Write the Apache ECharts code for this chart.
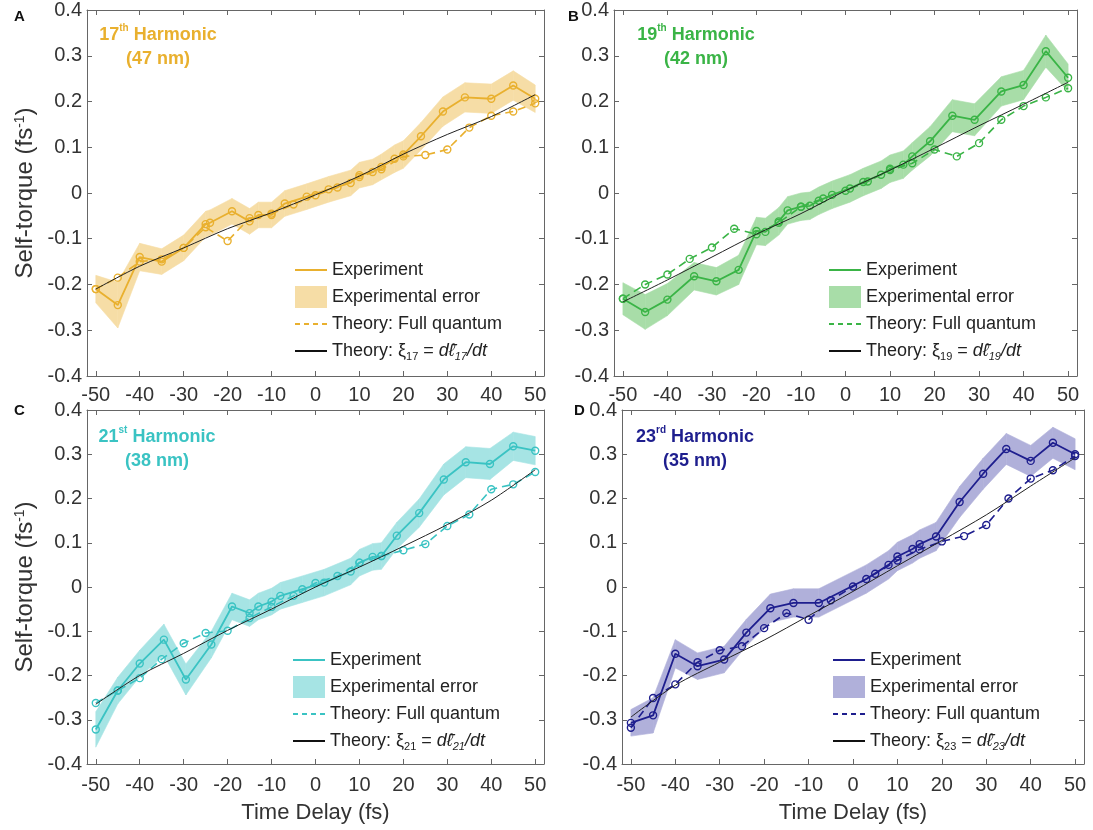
<!DOCTYPE html>
<html>
<head>
<meta charset="utf-8">
<script src="https://cdn.jsdelivr.net/npm/echarts@6/dist/echarts.min.js"></script>
<style>
  html, body { margin: 0; padding: 0; background: #fff; }
  #chart { width: 1093px; height: 830px; }
</style>
</head>
<body>
<div id="chart"></div>
<script>
// axis ticks
const delayTicks = [-50, -40, -30, -20, -10, 0, 10, 20, 30, 40, 50];
// time delays of the full quantum theory points and of the xi = dl/dt curve
const delayFull = [-50, -45, -40, -35, -30, -25, -20, -15, -10, -5, 0, 5, 10, 15, 20, 25, 30, 35, 40, 45, 50];
const delayXi = [-50, -40, -30, -20, -10, 0, 10, 20, 30, 40, 50];

// A: 17th harmonic
const delayExpA = [-50, -45, -40, -35, -30, -25, -24, -19, -15, -13, -10, -7, -2, 3, 8, 10, 13, 15, 18, 20, 24, 29, 34, 40, 45, 50];
const torqueExpA = [-0.21, -0.245, -0.14, -0.15, -0.12, -0.068, -0.065, -0.04, -0.062, -0.048, -0.048, -0.023, -0.008, 0.008, 0.022, 0.039, 0.046, 0.057, 0.075, 0.084, 0.124, 0.178, 0.209, 0.206, 0.235, 0.206];
const errA = [0.03, 0.05, 0.03, 0.028, 0.028, 0.028, 0.028, 0.028, 0.028, 0.028, 0.028, 0.028, 0.028, 0.028, 0.028, 0.028, 0.028, 0.028, 0.03, 0.03, 0.03, 0.032, 0.032, 0.032, 0.032, 0.03];
const torqueFullA = [-0.21, -0.185, -0.15, -0.145, -0.12, -0.075, -0.105, -0.055, -0.045, -0.025, -0.005, 0.012, 0.035, 0.052, 0.08, 0.083, 0.095, 0.143, 0.169, 0.178, 0.196];
const torqueXiA = [-0.21, -0.16, -0.12, -0.078, -0.043, -0.004, 0.037, 0.085, 0.128, 0.167, 0.215];

// B: 19th harmonic
const delayExpB = [-50, -45, -40, -34, -29, -24, -20, -18, -15, -13, -10, -8, -6, -3, 1, 4, 8, 10, 13, 15, 19, 24, 29, 35, 40, 45, 50];
const torqueExpB = [-0.231, -0.26, -0.233, -0.182, -0.193, -0.168, -0.083, -0.085, -0.062, -0.038, -0.03, -0.028, -0.017, -0.004, 0.01, 0.024, 0.04, 0.053, 0.062, 0.08, 0.113, 0.169, 0.16, 0.222, 0.236, 0.31, 0.252];
const errB = [0.035, 0.038, 0.035, 0.03, 0.03, 0.032, 0.03, 0.03, 0.03, 0.03, 0.03, 0.03, 0.03, 0.03, 0.03, 0.03, 0.03, 0.03, 0.03, 0.03, 0.032, 0.035, 0.035, 0.032, 0.032, 0.035, 0.03];
const torqueFullB = [-0.231, -0.2, -0.178, -0.144, -0.119, -0.078, -0.09, -0.065, -0.03, -0.012, 0.005, 0.025, 0.05, 0.065, 0.095, 0.08, 0.109, 0.16, 0.19, 0.209, 0.229];
const torqueXiB = [-0.238, -0.19, -0.14, -0.09, -0.045, 0.005, 0.05, 0.098, 0.147, 0.194, 0.242];

// C: 21st harmonic
const delayExpC = [-50, -45, -40, -34.5, -29.5, -23.7, -19, -15, -13, -10, -8, -3, 2, 8, 10, 13, 15, 18.5, 23.6, 29.2, 34.2, 39.7, 45, 50];
const torqueExpC = [-0.322, -0.234, -0.173, -0.119, -0.209, -0.13, -0.044, -0.059, -0.044, -0.033, -0.02, -0.005, 0.01, 0.035, 0.055, 0.068, 0.07, 0.116, 0.167, 0.243, 0.282, 0.278, 0.318, 0.308];
const errC = [0.04, 0.03, 0.03, 0.035, 0.035, 0.03, 0.03, 0.03, 0.03, 0.03, 0.03, 0.03, 0.03, 0.03, 0.03, 0.03, 0.03, 0.03, 0.032, 0.035, 0.035, 0.035, 0.032, 0.032];
const torqueFullC = [-0.262, -0.234, -0.206, -0.163, -0.127, -0.104, -0.099, -0.07, -0.045, -0.02, 0.009, 0.025, 0.055, 0.07, 0.083, 0.097, 0.138, 0.164, 0.221, 0.232, 0.26];
const torqueXiC = [-0.265, -0.2, -0.15, -0.098, -0.05, 0.0, 0.045, 0.092, 0.141, 0.196, 0.265];

// D: 23rd harmonic
const delayExpD = [-50, -45, -40, -35, -29, -24, -18.6, -13.4, -7.7, 3, 8, 10, 13.4, 15, 18.7, 24, 29.3, 34.5, 40, 45, 50];
const torqueExpD = [-0.307, -0.29, -0.151, -0.179, -0.164, -0.103, -0.048, -0.036, -0.036, 0.018, 0.05, 0.069, 0.086, 0.097, 0.114, 0.192, 0.256, 0.312, 0.285, 0.326, 0.3];
const errD = [0.03, 0.04, 0.032, 0.03, 0.03, 0.03, 0.032, 0.032, 0.032, 0.032, 0.032, 0.032, 0.032, 0.032, 0.032, 0.035, 0.035, 0.035, 0.035, 0.035, 0.035];
const torqueFullD = [-0.318, -0.251, -0.22, -0.17, -0.143, -0.134, -0.093, -0.059, -0.074, -0.03, 0.001, 0.03, 0.06, 0.085, 0.103, 0.115, 0.14, 0.2, 0.245, 0.264, 0.296];
const torqueXiD = [-0.294, -0.222, -0.17, -0.12, -0.065, -0.01, 0.048, 0.105, 0.163, 0.228, 0.292];

const FONT = 'Liberation Sans';
const TXT = '#333';

const panels = [
  { key: 'A', order: 17, sfx: 'th', nm: 47, color: '#E9B02E', band: '#F6DDA6',
    grid: { left: 87, top: 8, width: 457, height: 368 }, letter: [14, 9], title: [158, 23], legend: [295, 259],
    expT: delayExpA, expV: torqueExpA, err: errA, full: torqueFullA, xi: torqueXiA, yName: true, xName: false },
  { key: 'B', order: 19, sfx: 'th', nm: 42, color: '#3AB446', band: '#A8DDA8',
    grid: { left: 614, top: 8, width: 463, height: 368 }, letter: [568, 9], title: [696, 23], legend: [829, 259],
    expT: delayExpB, expV: torqueExpB, err: errB, full: torqueFullB, xi: torqueXiB, yName: false, xName: false },
  { key: 'C', order: 21, sfx: 'st', nm: 38, color: '#3AC3C3', band: '#A6E4E4',
    grid: { left: 87, top: 410, width: 457, height: 354 }, letter: [14, 403], title: [157, 425], legend: [293, 649],
    expT: delayExpC, expV: torqueExpC, err: errC, full: torqueFullC, xi: torqueXiC, yName: true, xName: true },
  { key: 'D', order: 23, sfx: 'rd', nm: 35, color: '#1E1E8E', band: '#B0B0DA',
    grid: { left: 622, top: 410, width: 462, height: 354 }, letter: [574, 403], title: [695, 425], legend: [833, 649],
    expT: delayExpD, expV: torqueExpD, err: errD, full: torqueFullD, xi: torqueXiD, yName: false, xName: true }
];

function pairs(xs, ys) {
  return xs.map((x, k) => [x, ys[k]]);
}

// error band: one quad between each pair of neighbouring points
function bandItem(params, api) {
  const k = params.dataIndexInside;
  if (k >= params.dataInsideLength - 1) return;
  const lo0 = api.coord([api.value(0, k), api.value(1, k)]);
  const hi0 = api.coord([api.value(0, k), api.value(2, k)]);
  const lo1 = api.coord([api.value(0, k + 1), api.value(1, k + 1)]);
  const hi1 = api.coord([api.value(0, k + 1), api.value(2, k + 1)]);
  const col = api.visual('color');
  return {
    type: 'polygon',
    shape: { points: [lo0, lo1, hi1, hi0] },
    style: { fill: col, stroke: col, lineWidth: 0.6 }
  };
}

// legend icons (moveTo points keep the bounding box at 32 x 22)
const lineIcon = 'path://M0,0M0,10h32v2h-32zM32,22';
const dashIcon = 'path://M0,0M0,10h5v2h-5zM9,10h5v2h-5zM18,10h5v2h-5zM27,10h5v2h-5zM32,22';
const rectIcon = 'path://M0,0h32v22h-32z';

const grids = [], xAxes = [], yAxes = [], series = [], legends = [], graphics = [];

panels.forEach((p, i) => {
  grids.push(Object.assign({ containLabel: false }, p.grid));

  const axisLine = { show: true, onZero: false, lineStyle: { color: '#666', width: 1 } };
  const tick = { show: true, inside: true, length: 5, lineStyle: { color: '#666' } };

  xAxes.push({
    type: 'value', gridIndex: i, position: 'bottom', min: -52, max: 52,
    axisLine: axisLine, splitLine: { show: false },
    axisTick: Object.assign({ customValues: delayTicks }, tick),
    axisLabel: { customValues: delayTicks, fontSize: 20, color: TXT, fontFamily: FONT, margin: p.xName ? 11 : 9 },
    name: p.xName ? 'Time Delay (fs)' : '', nameLocation: 'middle', nameGap: 38,
    nameTextStyle: { fontSize: 22, color: TXT, fontFamily: FONT }
  });
  xAxes.push({
    type: 'value', gridIndex: i, position: 'top', min: -52, max: 52,
    axisLine: axisLine, splitLine: { show: false },
    axisTick: Object.assign({ customValues: delayTicks }, tick),
    axisLabel: { show: false }
  });
  yAxes.push({
    type: 'value', gridIndex: i, position: 'left', min: -0.4, max: 0.4, interval: 0.1,
    axisLine: axisLine, splitLine: { show: false }, axisTick: tick,
    axisLabel: { fontSize: 20, color: TXT, fontFamily: FONT, margin: 5 },
    name: p.yName ? 'Self-torque (fs{sup|-1})' : '', nameLocation: 'middle', nameGap: 50,
    nameTextStyle: { fontSize: 24, color: TXT, fontFamily: FONT,
      rich: { sup: { fontSize: 14, color: TXT, fontFamily: FONT, verticalAlign: 'top', lineHeight: 12 } } }
  });
  yAxes.push({
    type: 'value', gridIndex: i, position: 'right', min: -0.4, max: 0.4, interval: 0.1,
    axisLine: axisLine, splitLine: { show: false }, axisTick: tick, axisLabel: { show: false }
  });

  const ax = { xAxisIndex: 2 * i, yAxisIndex: 2 * i };
  const hollow = { color: 'rgba(255,255,255,0)', borderColor: p.color, borderWidth: 1.4 };

  series.push(Object.assign({
    type: 'custom', name: p.key + ' err', renderItem: bandItem,
    data: p.expT.map((t, k) => [t, p.expV[k] - p.err[k], p.expV[k] + p.err[k]]),
    encode: { x: 0, y: [1, 2] }, itemStyle: { color: p.band }, silent: true, z: 1
  }, ax));
  series.push(Object.assign({
    type: 'line', name: p.key + ' full', data: pairs(delayFull, p.full),
    symbol: 'circle', symbolSize: 7, itemStyle: hollow,
    lineStyle: { color: p.color, width: 1.6, type: [8, 5] }, silent: true, z: 3
  }, ax));
  series.push(Object.assign({
    type: 'line', name: p.key + ' exp', data: pairs(p.expT, p.expV),
    symbol: 'circle', symbolSize: 7, itemStyle: hollow,
    lineStyle: { color: p.color, width: 1.8 }, silent: true, z: 4
  }, ax));
  series.push(Object.assign({
    type: 'line', name: p.key + ' xi', data: pairs(delayXi, p.xi), smooth: 0.3,
    symbol: 'none', lineStyle: { color: '#222', width: 1 }, itemStyle: { color: '#222' }, silent: true, z: 5
  }, ax));

  const labels = {};
  labels[p.key + ' exp'] = 'Experiment';
  labels[p.key + ' err'] = 'Experimental error';
  labels[p.key + ' full'] = 'Theory: Full quantum';
  labels[p.key + ' xi'] = 'Theory: ξ{sub|' + p.order + '} = {it|dℓ̄}{isub|' + p.order + '}{it|/dt}';

  legends.push({
    left: p.legend[0], top: p.legend[1], orient: 'vertical', selectedMode: false, padding: 0,
    itemWidth: 32, itemHeight: 22, itemGap: 5,
    data: [
      { name: p.key + ' exp', icon: lineIcon, itemStyle: { color: p.color, borderWidth: 0 } },
      { name: p.key + ' err', icon: rectIcon, itemStyle: { color: p.band, borderWidth: 0 } },
      { name: p.key + ' full', icon: dashIcon, itemStyle: { color: p.color, borderWidth: 0 } },
      { name: p.key + ' xi', icon: lineIcon, itemStyle: { color: '#111', borderWidth: 0 } }
    ],
    formatter: name => labels[name],
    textStyle: {
      fontSize: 18, color: '#222', fontFamily: FONT, lineHeight: 22,
      rich: {
        sub: { fontSize: 11, color: '#222', fontFamily: FONT, verticalAlign: 'bottom', lineHeight: 10 },
        it: { fontSize: 18, color: '#222', fontFamily: FONT, fontStyle: 'italic', lineHeight: 22 },
        isub: { fontSize: 11, color: '#222', fontFamily: FONT, fontStyle: 'italic', verticalAlign: 'bottom', lineHeight: 10 }
      }
    }
  });

  graphics.push({
    type: 'text', x: p.letter[0], y: p.letter[1],
    style: { text: p.key, font: 'bold 15px "Liberation Sans"', fill: '#111' }
  });
  const n = { fontSize: 18, fontWeight: 'bold', fontFamily: FONT, fill: p.color, color: p.color, lineHeight: 24, align: 'center' };
  const s = { fontSize: 10, fontWeight: 'bold', fontFamily: FONT, fill: p.color, color: p.color, lineHeight: 14, verticalAlign: 'top', align: 'center' };
  graphics.push({
    type: 'text', x: p.title[0], y: p.title[1],
    style: {
      text: '{n|' + p.order + '}{s|' + p.sfx + '}{n| Harmonic}\n{n|(' + p.nm + ' nm)}',
      align: 'center', verticalAlign: 'top', fill: p.color,
      rich: { n: n, s: s }
    }
  });
});

const chart = echarts.init(document.getElementById('chart'), null, { renderer: 'canvas' });
chart.setOption({
  animation: false,
  backgroundColor: '#fff',
  textStyle: { fontFamily: FONT },
  grid: grids,
  xAxis: xAxes,
  yAxis: yAxes,
  legend: legends,
  graphic: graphics,
  series: series
});
</script>
</body>
</html>
